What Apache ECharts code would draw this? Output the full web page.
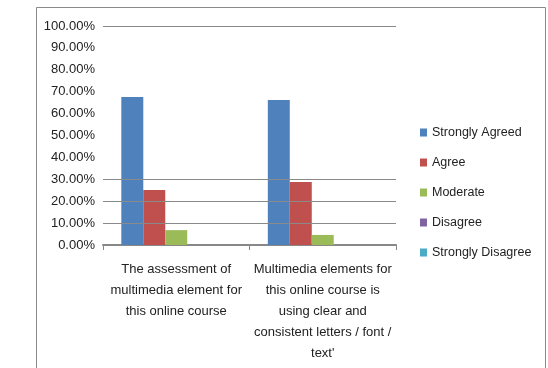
<!DOCTYPE html>
<html>
<head>
<meta charset="utf-8">
<script src="https://cdn.jsdelivr.net/npm/echarts@6/dist/echarts.min.js"></script>
<style>
  html, body {margin: 0; padding: 0; background: #fff;}
  #chart {width: 548px; height: 368px;}
</style>
</head>
<body>
<div id="chart"></div>
<script>
const categories = [
    'The assessment of\nmultimedia element for\nthis online course',
    'Multimedia elements for\nthis online course is\nusing clear and\nconsistent letters / font /\ntext\''
];
const seriesNames = ['Strongly Agreed', 'Agree', 'Moderate', 'Disagree', 'Strongly Disagree'];
const stronglyAgreed = [0.676, 0.662];
const agree = [0.251, 0.288];
const moderate = [0.068, 0.046];
const disagree = [0, 0];
const stronglyDisagree = [0, 0];
// only these gridlines survive in the reference
const gridLevels = [0.1, 0.2, 0.3, 1.0];

const colors = ['#4F81BD', '#C0504D', '#9BBB59', '#8064A2', '#4BACC6'];
const values = [stronglyAgreed, agree, moderate, disagree, stronglyDisagree];

const chart = echarts.init(document.getElementById('chart'));
const font = 'Liberation Sans, Arial, sans-serif';

chart.setOption({
    animation: false,
    color: colors,
    textStyle: {fontFamily: font, color: '#222'},
    graphic: [{
        type: 'rect',
        shape: {x: 36.5, y: 7.5, width: 509, height: 400},
        style: {fill: 'none', stroke: '#8a8a8a', lineWidth: 1}
    }],
    legend: {
        orient: 'vertical',
        left: 415,
        top: 121,
        itemWidth: 7,
        itemHeight: 8,
        itemGap: 17,
        icon: 'rect',
        textStyle: {fontSize: 12.5, color: '#222', fontFamily: font},
        data: seriesNames
    },
    grid: {left: 103, right: 152, top: 26, bottom: 123},
    xAxis: {
        type: 'category',
        data: categories,
        axisLine: {lineStyle: {color: '#888', width: 2}},
        axisTick: {show: true, length: 5, lineStyle: {color: '#888'}},
        axisLabel: {fontSize: 13, lineHeight: 21, color: '#222', margin: 14, interval: 0}
    },
    yAxis: {
        type: 'value',
        min: 0,
        max: 1,
        interval: 0.1,
        axisLine: {show: false},
        axisTick: {show: false},
        splitLine: {show: false},
        axisLabel: {
            fontSize: 13,
            color: '#222',
            margin: 8,
            formatter: v => (v * 100).toFixed(2) + '%'
        }
    },
    series: seriesNames.map((name, i) => ({
        name: name,
        type: 'bar',
        data: values[i],
        barGap: '0%',
        barCategoryGap: '25%',
        markLine: i === 0 ? {
            silent: true,
            symbol: 'none',
            label: {show: false},
            lineStyle: {color: '#8a8a8a', type: 'solid', width: 1},
            data: gridLevels.map(v => ({yAxis: v}))
        } : undefined,
        z: 3
    }))
});
</script>
</body>
</html>
